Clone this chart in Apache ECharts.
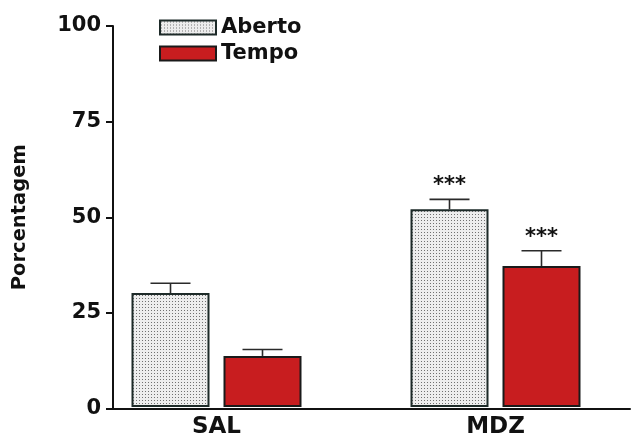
<!DOCTYPE html>
<html><head><meta charset="utf-8">
<script src="https://cdn.jsdelivr.net/npm/echarts@6/dist/echarts.min.js"></script>
<style>html,body{margin:0;padding:0;background:#fff}#c{width:636px;height:439px}</style>
</head><body><div id="c"></div>
<script>
const categories = ['SAL', 'MDZ'];
const yTicks = [0, 25, 50, 75, 100];
const abertoMean = [29.9, 51.9];
const abertoErr = [2.6, 2.6];
const tempoMean = [13.4, 37.0];
const tempoErr = [1.7, 4.0];
const abertoSig = ['', '***'];
const tempoSig = ['', '***'];

const FONT = '"DejaVu Sans", sans-serif';
const BAR_W = 78, GAP = 14;
const OFF = (BAR_W + GAP) / 2;

// dotted pattern
const tile = document.createElement('canvas');
tile.width = 3; tile.height = 3;
const tctx = tile.getContext('2d');
tctx.fillStyle = '#ededed'; tctx.fillRect(0, 0, 3, 3);
tctx.fillStyle = '#707070'; tctx.fillRect(1, 1, 1, 1);
const dotPattern = { image: tile, repeat: 'repeat' };

function errData(means, errs, sig) {
  return means.map((m, i) => [i, m, errs[i], sig[i]]);
}
function errSeries(name, means, errs, sig, sign) {
  return {
    type: 'custom', name: name + ' err', xAxisIndex: 0, yAxisIndex: 0, z: 5,
    data: errData(means, errs, sig),
    renderItem: function (params, api) {
      const c = api.value(0), m = api.value(1), e = api.value(2);
      const s = sig[params.dataIndex];
      const b = api.coord([c, m]);
      const t = api.coord([c, m + e]);
      const x = b[0] + sign * OFF;
      const children = [
        { type: 'line', shape: { x1: x, y1: b[1], x2: x, y2: t[1] }, style: { stroke: '#2a2a2a', lineWidth: 1.6 } },
        { type: 'line', shape: { x1: x - 20, y1: t[1], x2: x + 20, y2: t[1] }, style: { stroke: '#2a2a2a', lineWidth: 1.6 } }
      ];
      if (s) {
        children.push({ type: 'text', style: { text: s, x: x, y: t[1] - 3, align: 'center', verticalAlign: 'bottom', font: 'bold 21px ' + FONT, fill: '#111' } });
      }
      return { type: 'group', children: children };
    }
  };
}

const chart = echarts.init(document.getElementById('c'), null, { renderer: 'canvas' });
chart.setOption({
  animation: false,
  backgroundColor: '#fff',
  grid: [
    { left: 77, right: 1, top: 26, bottom: 30.5 },
    { left: 113, right: 6, top: 26, bottom: 30.5 }
  ],
  legend: {
    data: ['Aberto', 'Tempo'], orient: 'vertical', left: 154, top: 12,
    itemWidth: 56, itemHeight: 14, itemGap: 5, icon: 'rect',
    textStyle: { fontFamily: FONT, fontWeight: 'bold', fontSize: 21, color: '#111' }
  },
  xAxis: [
    { type: 'category', gridIndex: 0, data: categories,
      axisLine: { show: false }, axisTick: { show: false },
      axisLabel: { fontFamily: FONT, fontWeight: 'bold', fontSize: 23, color: '#111', margin: 9 } },
    { type: 'value', gridIndex: 1, min: 0, max: 1,
      axisLine: { show: true, lineStyle: { color: '#111', width: 2 } },
      axisTick: { show: false }, axisLabel: { show: false }, splitLine: { show: false } }
  ],
  yAxis: [
    { type: 'value', gridIndex: 0, min: 0, max: 100, interval: 25, show: false },
    { type: 'value', gridIndex: 1, min: yTicks[0], max: yTicks[yTicks.length - 1], interval: 25,
      name: 'Porcentagem', nameLocation: 'middle', nameGap: 83,
      nameTextStyle: { fontFamily: FONT, fontWeight: 'bold', fontSize: 19.5, color: '#111' },
      axisLine: { show: true, lineStyle: { color: '#111', width: 2 } },
      axisTick: { show: true, length: 7, lineStyle: { color: '#111', width: 2 } },
      axisLabel: { fontFamily: FONT, fontWeight: 'bold', fontSize: 21, color: '#111', margin: 12 },
      splitLine: { show: false } }
  ],
  series: [
    { name: 'Aberto', type: 'bar', xAxisIndex: 0, yAxisIndex: 0, data: abertoMean,
      barWidth: BAR_W, barGap: (GAP / BAR_W * 100) + '%',
      itemStyle: { color: dotPattern, borderColor: '#1d2a28', borderWidth: 2 } },
    { name: 'Tempo', type: 'bar', xAxisIndex: 0, yAxisIndex: 0, data: tempoMean,
      barWidth: BAR_W,
      itemStyle: { color: '#c81d1f', borderColor: '#1a1a1a', borderWidth: 2 } },
    errSeries('Aberto', abertoMean, abertoErr, abertoSig, -1),
    errSeries('Tempo', tempoMean, tempoErr, tempoSig, 1)
  ]
});
</script></body></html>
